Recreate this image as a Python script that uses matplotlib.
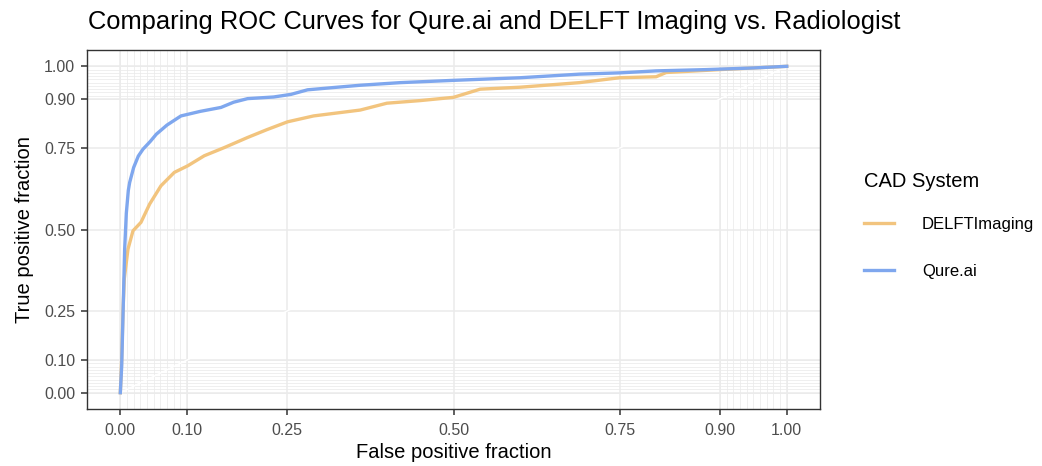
import numpy as np
import matplotlib
matplotlib.use("Agg")
import matplotlib.pyplot as plt

plt.rcParams['font.family'] = ['Liberation Sans', 'DejaVu Sans']

# ROC curve points
qure_fpf = [0.0, 0.002, 0.004, 0.0065, 0.009, 0.012, 0.014, 0.02, 0.027, 0.034, 0.045,
            0.054, 0.07, 0.091, 0.12, 0.151, 0.17, 0.191, 0.23, 0.256, 0.281, 0.32,
            0.36, 0.42, 0.5, 0.6, 0.689, 0.75, 0.804, 0.88, 0.95, 1.0]
qure_tpf = [0.0, 0.08, 0.236, 0.44, 0.55, 0.62, 0.644, 0.69, 0.725, 0.746, 0.77,
            0.792, 0.82, 0.848, 0.862, 0.874, 0.89, 0.901, 0.906, 0.914, 0.928, 0.935,
            0.942, 0.95, 0.957, 0.965, 0.976, 0.98, 0.986, 0.99, 0.995, 1.0]

delft_fpf = [0.0, 0.002, 0.004, 0.006, 0.0115, 0.019, 0.031, 0.044, 0.061, 0.081,
             0.101, 0.126, 0.156, 0.191, 0.22, 0.251, 0.29, 0.36, 0.4, 0.45, 0.5,
             0.54, 0.6, 0.689, 0.749, 0.804, 0.819, 0.9, 1.0]
delft_tpf = [0.0, 0.1, 0.25, 0.35, 0.44, 0.496, 0.522, 0.578, 0.634, 0.675,
             0.695, 0.726, 0.751, 0.782, 0.806, 0.830, 0.848, 0.866, 0.887, 0.895, 0.905,
             0.93, 0.936, 0.950, 0.965, 0.968, 0.981, 0.99, 1.0]

breaks = [0, 0.1, 0.25, 0.5, 0.75, 0.9, 1]
break_labels = ["0.00", "0.10", "0.25", "0.50", "0.75", "0.90", "1.00"]
minor = [i / 100 for i in range(0, 11)] + [0.9 + i / 100 for i in range(0, 11)]

fig = plt.figure(figsize=(10.42, 4.66), dpi=100)
ax = fig.add_axes([0.0835, 0.1223, 0.7035, 0.7704])

grid_col = "#EBEBEB"
for m in minor:
    ax.axvline(m, color=grid_col, lw=0.55, zorder=0)
    ax.axhline(m, color=grid_col, lw=0.55, zorder=0)
for b in breaks:
    ax.axvline(b, color=grid_col, lw=1.1, zorder=0)
    ax.axhline(b, color=grid_col, lw=1.1, zorder=0)
ax.plot([0, 1], [0, 1], color="white", lw=1.0, zorder=1)

ax.plot(delft_fpf, delft_tpf, color="#F2C47E", lw=2.4, label="DELFTImaging", zorder=2)
ax.plot(qure_fpf, qure_tpf, color="#7FA7EE", lw=2.4, label="Qure.ai", zorder=3)

ax.set_xlim(-0.05, 1.05)
ax.set_ylim(-0.05, 1.05)
ax.set_xticks(breaks)
ax.set_xticklabels(break_labels)
ax.set_yticks(breaks)
ax.set_yticklabels(break_labels)
ax.tick_params(length=4, width=1.1, color="#333333", labelcolor="#4D4D4D", labelsize=11.5)
ax.tick_params(axis="x", pad=6)
ax.tick_params(axis="y", pad=4.5)
for s in ax.spines.values():
    s.set_color("#333333")
    s.set_linewidth(1.0)

ax.set_xlabel("False positive fraction", fontsize=14.5, labelpad=4)
ax.set_ylabel("True positive fraction", fontsize=14.5, labelpad=7)
fig.text(0.0845, 0.953, "Comparing ROC Curves for Qure.ai and DELFT Imaging vs. Radiologist",
         fontsize=18.4, ha="left", va="center")

leg = ax.legend(title="CAD System", loc="center left", bbox_to_anchor=(0.8215, 0.517),
                bbox_transform=fig.transFigure, frameon=False, fontsize=12,
                title_fontsize=14.5, handlelength=1.75, labelspacing=1.9, borderpad=0,
                handletextpad=1.7)
leg._legend_box.align = "left"
leg._legend_box.sep = 19

fig.savefig("out.png", dpi=100)
